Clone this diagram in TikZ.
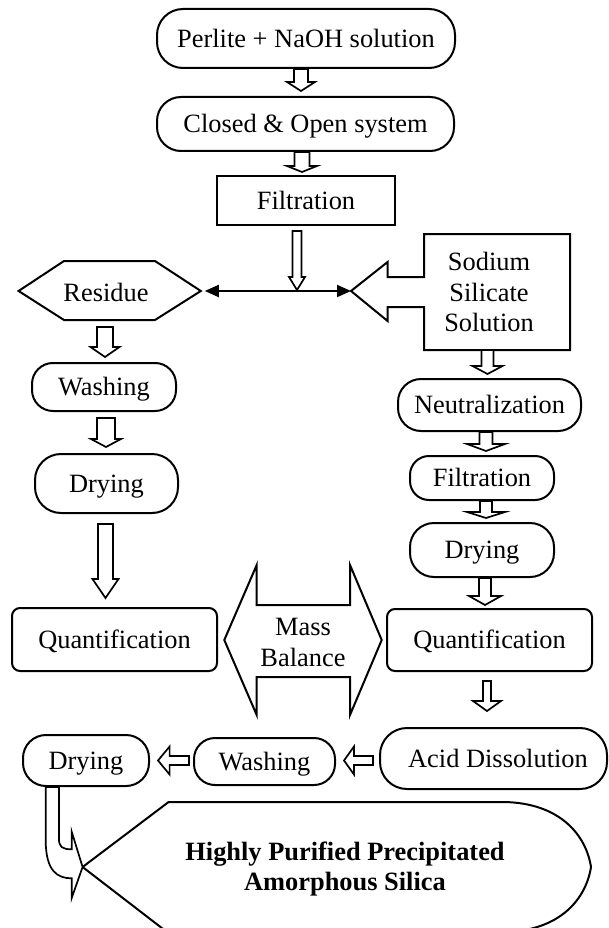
\documentclass[tikz,border=0pt]{standalone}
\usepackage{fontspec}
\setmainfont{Liberation Serif}
\usetikzlibrary{arrows.meta,calc}
\tikzset{
 stad/.style={draw,line width=2pt,fill=white,inner sep=0pt,text height=22.5pt,text depth=5pt},
 blk/.style={draw,line width=1.7pt,fill=white,line join=miter},
 shp/.style={draw,line width=2pt,fill=white,line join=miter},
 lbl/.style={inner sep=0pt,align=center},
 conn/.style={line width=2pt,{Triangle[length=14pt,width=12pt]}-{Triangle[length=14pt,width=12pt]}},
}
% block arrow pointing down: from anchor, to anchor, x, top gap, tip gap, head length, shaft half width, head half width
\newcommand\blkdn[8]{%
 \path (#3,0) coordinate (bx);
 \path (bx |- #1) ++(0,#4) coordinate (bt);
 \path (bx |- #2) ++(0,-#5) coordinate (bp);
 \path (bp) ++(0,-#6) coordinate (bh);
 \draw[blk] ($(bt)+(-#7,0)$) -- ($(bt)+(#7,0)$) -- ($(bh)+(#7,0)$) -- ($(bh)+(#8,0)$) -- (bp) -- ($(bh)+(-#8,0)$) -- ($(bh)+(-#7,0)$) -- cycle;}
% block arrow pointing left
\newcommand\blklt[8]{%
 \path (0,#3) coordinate (by);
 \path (#1 |- by) ++(-#4,0) coordinate (bt);
 \path (#2 |- by) ++(#5,0) coordinate (bp);
 \path (bp) ++(#6,0) coordinate (bh);
 \draw[blk] ($(bt)+(0,-#7)$) -- ($(bt)+(0,#7)$) -- ($(bh)+(0,#7)$) -- ($(bh)+(0,#8)$) -- (bp) -- ($(bh)+(0,-#8)$) -- ($(bh)+(0,-#7)$) -- cycle;}
\begin{document}
\begin{tikzpicture}[x=1pt,y=-1pt,every node/.style={font=\fontsize{26.4pt}{30.5pt}\selectfont}]
\useasboundingbox (0,0) rectangle (608,928);
\fill[white] (0,0) rectangle (608,928);

% top column
\node[stad,minimum width=298pt,minimum height=59pt,rounded corners=26pt] (perlite) at (306,38.5) {Perlite + NaOH solution};
\node[stad,minimum width=297pt,minimum height=54pt,rounded corners=24pt] (closed) at (305.5,124) {Closed \& Open system};
\node[stad,minimum width=178pt,minimum height=49pt] (filt1) at (306,200.5) {Filtration};

% residue hexagon
\draw[shp] (18.6,291) -- (64,261) -- (155,261) -- (200.8,291) -- (155,320) -- (64,320) -- cycle;
\coordinate (restip) at (200.8,291);
\coordinate (resbot) at (105,320);
\node[lbl] (residue) at (106,292) {Residue};

% sodium silicate callout
\draw[shp] (351,291) -- (387.6,262) -- (387.6,277) -- (424,277) -- (424,234) -- (570,234) -- (570,350) -- (424,350) -- (424,307) -- (387.6,307) -- (387.6,321) -- cycle;
\coordinate (sodtip) at (351,291);
\coordinate (sodbot) at (487,350);
\node[lbl] (sodium) at (489,292) {Sodium\\Silicate\\Solution};

% left column
\node[stad,minimum width=144pt,minimum height=48pt,rounded corners=21pt] (washL) at (104,387) {Washing};
\node[stad,minimum width=143pt,minimum height=59pt,rounded corners=26pt] (dryL) at (106.5,483.5) {Drying};
\node[stad,minimum width=205pt,minimum height=63pt,rounded corners=8pt] (quantL) at (114.5,639.5) {Quantification};

% right column
\node[stad,minimum width=183pt,minimum height=52pt,rounded corners=23pt] (neut) at (489.5,405) {Neutralization};
\node[stad,minimum width=144pt,minimum height=44pt,rounded corners=19pt] (filtR) at (482,478) {Filtration};
\node[stad,minimum width=144pt,minimum height=54pt,rounded corners=24pt] (dryR) at (482,550) {Drying};
\node[stad,minimum width=205pt,minimum height=62pt,rounded corners=8pt] (quantR) at (489.5,640) {Quantification};

% mass balance double arrow
\draw[shp] (224.3,640) -- (256.7,565) -- (256.7,605) -- (350,605) -- (350,565) -- (381.7,640) -- (350,715) -- (350,677) -- (256.7,677) -- (256.7,715) -- cycle;
\node[lbl] (mass) at (303,642.5) {Mass\\Balance};

% bottom row
\node[stad,minimum width=227pt,minimum height=61pt,rounded corners=27pt] (acid) at (493.5,758.5) {\hspace{9pt}Acid Dissolution};
\node[stad,minimum width=141pt,minimum height=47pt,rounded corners=21pt] (washB) at (264.5,761.5) {Washing};
\node[stad,minimum width=126pt,minimum height=51pt,rounded corners=23pt] (dryB) at (86,760.5) {Drying};

% final product
\draw[shp] (168.6,802) -- (504,802) .. controls (560,803) and (586,835) .. (591,867) .. controls (586,899) and (560,931) .. (504,932) -- (167,932) -- (82.6,867) -- cycle;
\coordinate (fintip) at (82.6,867);
\node[lbl] (final) at (345,869) {\bfseries Highly Purified Precipitated\\\bfseries Amorphous Silica};

% curved arrow from drying to product
\draw[blk] (dryB.south -| 45.7,0) -- (45.7,840) .. controls (45.7,872) and (58,878.3) .. (71.7,878.3) -- (71.7,898) -- (fintip) -- (71.7,831.7) -- (71.7,849.3) .. controls (62,849.3) and (58.9,847) .. (58.9,838) -- (dryB.south -| 58.9,0) -- cycle;

% block arrows
\blkdn{perlite.south}{closed.north}{301}{0}{5}{9}{7}{14}
\blkdn{closed.south}{filt1.north}{302}{0}{3}{6}{7.5}{15}
\coordinate (junc) at (297,291);
\blkdn{filt1.south}{junc}{297}{5}{1}{13}{4.5}{8}
\blkdn{resbot}{washL.north}{105}{7}{5}{10}{8}{14.5}
\blkdn{washL.south}{dryL.north}{106}{6}{6}{8}{9}{15}
\blkdn{dryL.south}{quantL.north}{105.5}{10}{9}{19}{7.5}{13}
\blkdn{sodbot}{neut.north}{487.5}{0}{4}{8}{6}{15}
\blkdn{neut.south}{filtR.north}{486}{0}{4}{7}{6.5}{19}
\blkdn{filtR.south}{dryR.north}{486}{0}{4}{6}{6}{19}
\blkdn{dryR.south}{quantR.north}{485}{0}{3}{9}{6}{16}
\blkdn{quantR.south}{acid.north}{487}{9}{16}{10}{4}{14}
\blklt{acid.west}{washB.east}{760.5}{6}{8}{10}{4.5}{14}
\blklt{washB.west}{dryB.east}{760.5}{4}{8}{11.6}{4.5}{14}

% connector between residue and sodium silicate
\draw[conn] ([xshift=4pt]restip) -- (sodtip);
\end{tikzpicture}
\end{document}
